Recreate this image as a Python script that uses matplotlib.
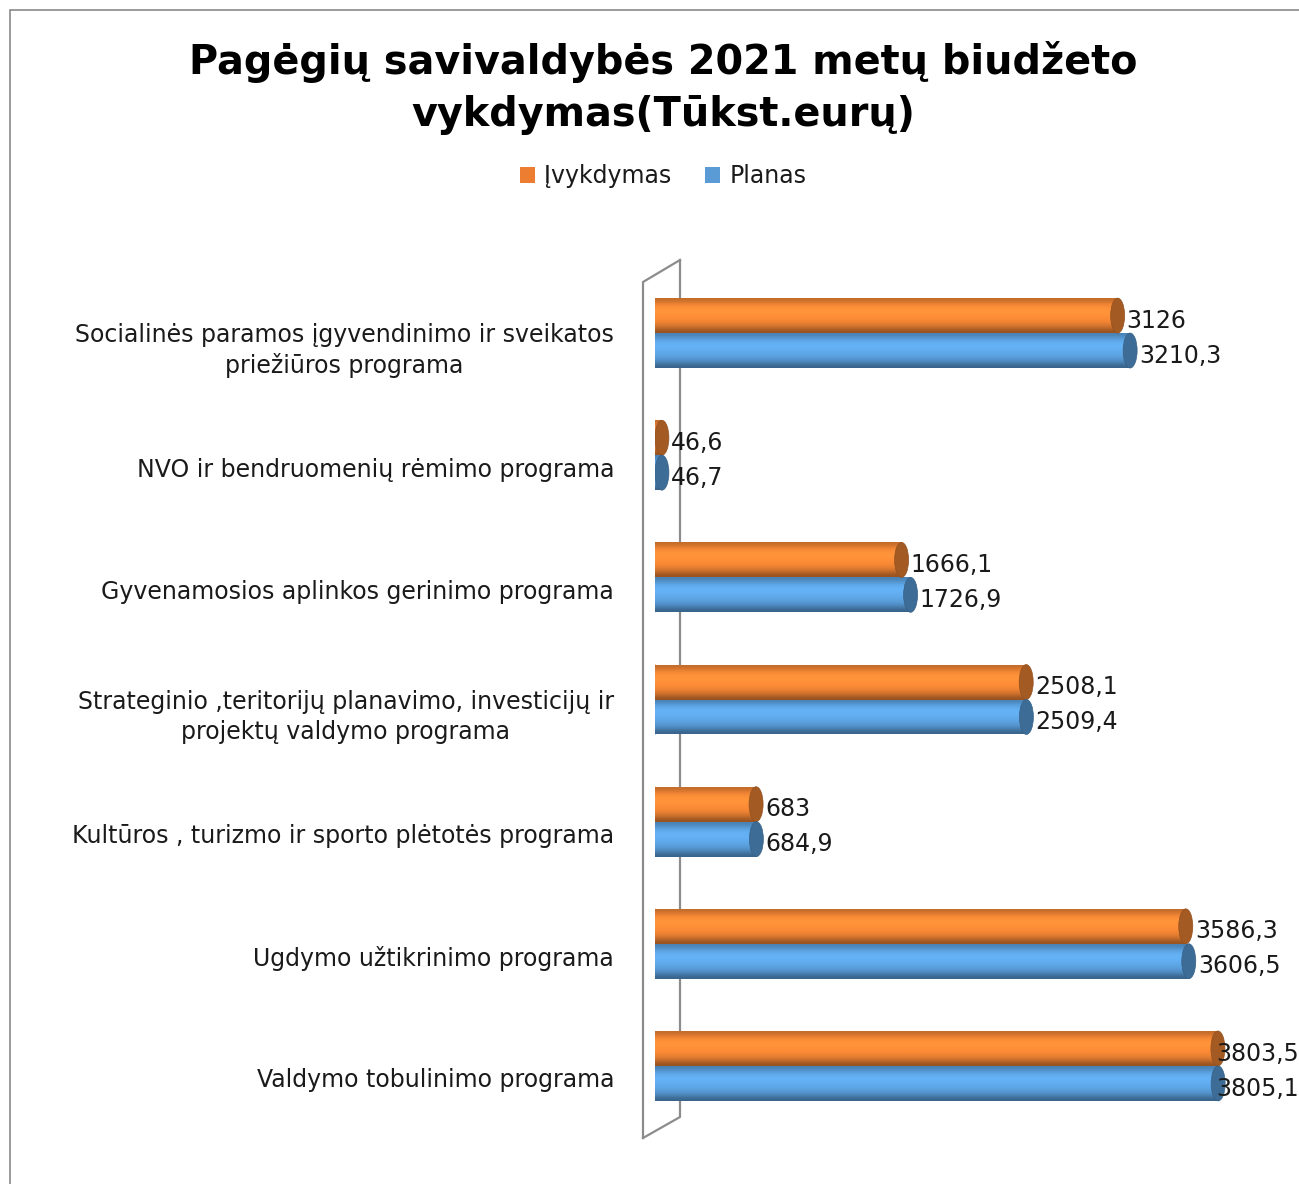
import numpy as np
import matplotlib
matplotlib.use('Agg')
import matplotlib.pyplot as plt
from matplotlib.patches import Ellipse, Patch, Rectangle
from matplotlib.lines import Line2D
from matplotlib.colors import to_rgb
import matplotlib.transforms as mtransforms

# data
categories = [
    'Socialinės paramos įgyvendinimo ir sveikatos\npriežiūros programa',
    'NVO ir bendruomenių rėmimo programa',
    'Gyvenamosios aplinkos gerinimo programa',
    'Strateginio ,teritorijų planavimo, investicijų ir\nprojektų valdymo programa',
    'Kultūros , turizmo ir sporto plėtotės programa',
    'Ugdymo užtikrinimo programa',
    'Valdymo tobulinimo programa',
]
ivykdymas = [3126, 46.6, 1666.1, 2508.1, 683, 3586.3, 3803.5]
planas = [3210.3, 46.7, 1726.9, 2509.4, 684.9, 3606.5, 3805.1]
ivykdymas_lbl = ['3126', '46,6', '1666,1', '2508,1', '683', '3586,3', '3803,5']
planas_lbl = ['3210,3', '46,7', '1726,9', '2509,4', '684,9', '3606,5', '3805,1']

ORANGE = '#fb8a36'
BLUE = '#5ea6e6'
FS = 17

W, H = 1299, 1184
fig = plt.figure(figsize=(W / 100, H / 100), dpi=100)
plt.rcParams['font.family'] = 'DejaVu Sans'

def fx(px):
    return px / W

def fy(py):
    return 1 - py / H

# axes: x=0 at 655px, 0.148 px per unit; rows 122.3 px apart
ax = fig.add_axes([fx(655), fy(1127), 4000 * 0.148 / W, (1127 - 272) / H])
ax.patch.set_visible(False)
for s in ax.spines.values():
    s.set_visible(False)

pos = np.arange(len(categories))
bh = 0.286

def shade(patch, base, zo):
    c = np.array(to_rgb(base))
    f = np.array([0.78, 0.95, 1.06, 1.08, 1.04, 1.0, 0.93, 0.8, 0.6])
    grad = np.clip(f[:, None] * c[None, :], 0, 1)[:, None, :]
    bb = patch.get_path().get_extents(patch.get_patch_transform())
    im = ax.imshow(grad, extent=[bb.x0, bb.x1, bb.y1, bb.y0], aspect='auto',
                   interpolation='bicubic', zorder=zo)
    im.set_clip_path(patch)

def cylinders(vals, offs, base):
    bars = ax.barh(pos + offs, vals, height=bh, color=base, zorder=3)
    dark = np.array(to_rgb(base)) * 0.65
    capw = 14 / 0.148
    for b in bars:
        y0 = b.get_y()
        yc = y0 + b.get_height() / 2
        shade(b, base, 3.5)
        left = Ellipse((0, yc), capw, b.get_height(), facecolor=base, zorder=2.8)
        ax.add_patch(left)
        shade(left, base, 2.9)
        cap = Ellipse((b.get_width(), yc), capw, b.get_height(),
                      facecolor=dark, edgecolor=dark * 0.9, lw=0.5, zorder=4)
        ax.add_patch(cap)
    return bars

b1 = cylinders(ivykdymas, -bh / 2, ORANGE)
b2 = cylinders(planas, bh / 2, BLUE)

ax.set_xlim(0, 4000)
ax.set_ylim(len(categories) - 0.5, -0.5)
ax.set_xticks([])
ax.set_yticks(pos, categories)
ax.tick_params(axis='y', length=0, pad=29.5, labelsize=FS, labelcolor='#1a1a1a')
down = mtransforms.ScaledTranslation(0, -12 / 100, fig.dpi_scale_trans)
for t in ax.get_yticklabels():
    t.set_multialignment('center')
    t.set_linespacing(1.3)
    t.set_transform(t.get_transform() + down)

# value labels
for bars, lbls in ((b1, ivykdymas_lbl), (b2, planas_lbl)):
    for b, l in zip(bars, lbls):
        yc = b.get_y() + b.get_height() / 2
        end = b.get_width()
        if end > 3700:
            tr = (mtransforms.blended_transform_factory(fig.transFigure, ax.transData)
                  + mtransforms.ScaledTranslation(0, -6 / 100, fig.dpi_scale_trans))
            fig.text(1.0, yc, l, ha='right', va='center', fontsize=FS, color='#1a1a1a',
                     transform=tr, zorder=6)
        else:
            ax.annotate(l, (end, yc), xytext=(9, -5), textcoords='offset pixels',
                        ha='left', va='center', fontsize=FS, color='#1a1a1a',
                        annotation_clip=False, zorder=6)

# 3D wall behind the bars
wall = '#8c8c8c'
for xs, ys in (([643, 643, 680, 680], [1138, 282, 260, 260]),
               ([643, 680, 680], [1138, 1117, 260])):
    fig.add_artist(Line2D([fx(x) for x in xs], [fy(y) for y in ys], color=wall,
                          lw=1.6, zorder=-1))

# outer frame (top/left visible)
fig.add_artist(Rectangle((fx(10), -0.05), 1.2, fy(10) + 0.05, fill=False,
                         edgecolor='#8a8a8a', lw=1.2, zorder=-2))

fig.text(fx(663), fy(62), 'Pagėgių savivaldybės 2021 metų biudžeto', ha='center', va='center',
         fontsize=28.6, fontweight='bold', color='black')
fig.text(fx(663), fy(115), 'vykdymas(Tūkst.eurų)', ha='center', va='center',
         fontsize=28.6, fontweight='bold', color='black')

handles = [Patch(facecolor='#ed7d31', label='Įvykdymas'),
           Patch(facecolor='#5b9bd5', label='Planas')]
fig.legend(handles=handles, loc='center', bbox_to_anchor=(fx(663), fy(176)), ncol=2,
           frameon=False, fontsize=FS, handlelength=0.65, handleheight=0.65,
           handletextpad=0.4, columnspacing=1.4, labelcolor='#1a1a1a')

fig.savefig('out.png', dpi=100)
